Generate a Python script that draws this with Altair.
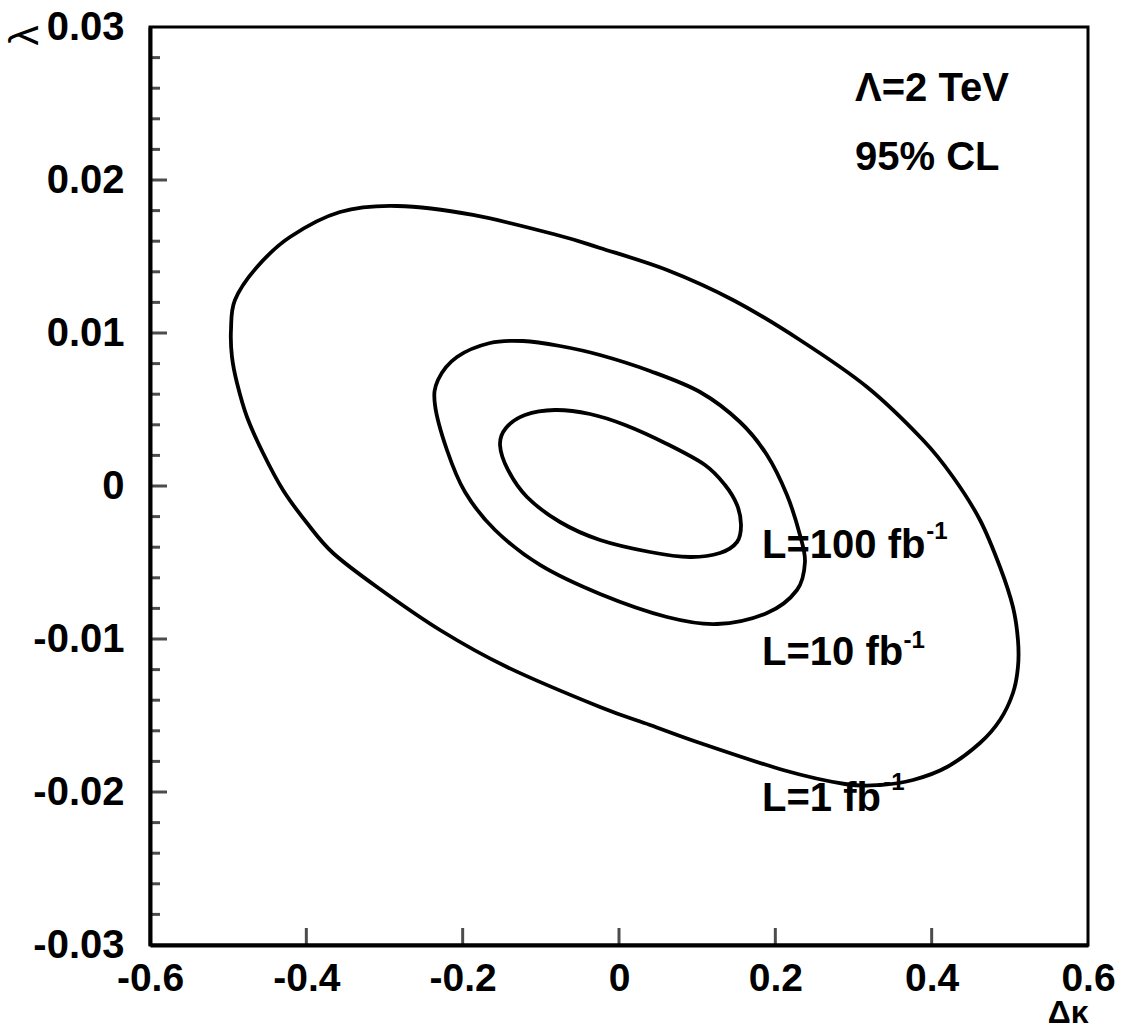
import altair as alt
import pandas as pd

# ---- contour data (Δκ, λ) ----
# L = 1 fb^-1
outer_dk = [-0.4964, -0.4913, -0.4631, -0.4209, -0.3569, -0.2840, -0.1868, -0.0793, -0.0243,
            0.0614, 0.1458, 0.2315, 0.3173, 0.3889, 0.4273, 0.4618, 0.4874, 0.5040, 0.5104,
            0.5104, 0.5040, 0.4874, 0.4618, 0.4196, 0.3761, 0.3339, 0.2891, 0.2098, 0.1036,
            0.0397, -0.0243, -0.1433, -0.2290, -0.3096, -0.3659, -0.3992, -0.4299, -0.4554, -0.4759,
            -0.4887, -0.4951]
outer_lam = [0.010196, 0.012157, 0.014314, 0.016275, 0.017909, 0.018301, 0.017713, 0.016405, 0.015556,
             0.014118, 0.012157, 0.009543, 0.006471, 0.003007, 0.000588, -0.002222, -0.005294, -0.007909, -0.010065,
             -0.011830, -0.013530, -0.015294, -0.016798, -0.018366, -0.019216, -0.019543, -0.019477, -0.018562, -0.016798,
             -0.015621, -0.014445, -0.011830, -0.009412, -0.006601, -0.004379, -0.002418, -0.000261, 0.002157, 0.004510,
             0.006732, 0.008431]
# L = 10 fb^-1
mid_dk = [-0.2354, -0.2316, -0.2073, -0.1650, -0.1228, -0.0755, -0.0243, 0.0397, 0.1036, 0.1548,
          0.1893, 0.2149, 0.2315, 0.2379, 0.2277, 0.1893, 0.1254, 0.0614, -0.0243, -0.1011,
          -0.1586, -0.1970, -0.2201]
mid_lam = [0.005294, 0.006928, 0.008431, 0.009346, 0.009477, 0.009150, 0.008562, 0.007516, 0.006144, 0.004183,
           0.002026, -0.000588, -0.003203, -0.004967, -0.006797, -0.008301, -0.009020, -0.008562, -0.007059, -0.005163,
           -0.002876, -0.000392, 0.002353]
# L = 100 fb^-1
inner_dk = [-0.1522, -0.1446, -0.1203, -0.0819, -0.0371, 0.0077, 0.0614, 0.1100, 0.1356, 0.1510,
            0.1561, 0.1510, 0.1292, 0.0908, 0.0397, -0.0243, -0.0755, -0.1177, -0.1420]
inner_lam = [0.002680, 0.003791, 0.004641, 0.004967, 0.004706, 0.003987, 0.002745, 0.001373, 0.000065, -0.001242,
             -0.002549, -0.003660, -0.004379, -0.004641, -0.004314, -0.003529, -0.002353, -0.000719, 0.001046]

# axis ticks
x_ticks = [-0.6, -0.4, -0.2, 0, 0.2, 0.4, 0.6]
x_inner_ticks = [-0.4, -0.2, 0, 0.2, 0.4]
y_ticks = [-0.03, -0.02, -0.01, 0, 0.01, 0.02, 0.03]
y_major_inner = [-0.02, -0.01, 0, 0.01, 0.02]
y_minor = [-0.028, -0.026, -0.024, -0.022, -0.018, -0.016, -0.014, -0.012,
           -0.008, -0.006, -0.004, -0.002, 0.002, 0.004, 0.006, 0.008,
           0.012, 0.014, 0.016, 0.018, 0.022, 0.024, 0.026, 0.028]

# annotations
label_text = ["Λ=2 TeV", "95% CL", "L=100 fb", "L=10 fb", "L=1 fb"]
label_dk = [0.302, 0.302, 0.183, 0.183, 0.183]
label_lam = [0.02595, 0.02144, -0.00392, -0.01092, -0.02046]
sup_text = ["-1", "-1", "-1"]
sup_dk = [0.393, 0.364, 0.338]
sup_lam = [-0.00301, -0.01013, -0.01941]

rows = []
for name, xs, ys in [("L1", outer_dk, outer_lam), ("L10", mid_dk, mid_lam), ("L100", inner_dk, inner_lam)]:
    for i, (a, b) in enumerate(zip(xs, ys)):
        rows.append({"curve": name, "ord": i, "dk": a, "lam": b})
df = pd.DataFrame(rows)

FONT = "Liberation Sans"
xscale = alt.Scale(domain=[-0.6, 0.6], nice=False, zero=False)
yscale = alt.Scale(domain=[-0.03, 0.03], nice=False, zero=False)

x_axis = alt.Axis(values=x_ticks, labelExpr="'' + datum.value", grid=False,
                  domain=True, domainColor="black", domainWidth=4, ticks=False, tickSize=0,
                  labelFont=FONT, labelFontSize=39, labelFontWeight="bold", labelColor="black",
                  labelPadding=14, labelFlush=False, labelOverlap=False, labelBound=False,
                  title="Δκ", titleFont=FONT, titleFontSize=32, titleFontWeight="bold",
                  titleColor="black", titleAnchor="end", titleAlign="right",
                  titleX=938, titleY=77, titleBaseline="alphabetic")
y_axis = alt.Axis(values=y_ticks, labelExpr="'' + datum.value", grid=False,
                  domain=True, domainColor="black", domainWidth=4, ticks=False, tickSize=0,
                  labelFont=FONT, labelFontSize=40, labelFontWeight="bold", labelColor="black",
                  labelPadding=26, labelFlush=False, labelOverlap=False, labelBound=False,
                  labelAlign="right", labelBaseline="middle",
                  title="λ", titleFont=FONT, titleFontSize=40, titleFontWeight="normal",
                  titleColor="black", titleAngle=270, titleAlign="center", titleBaseline="middle",
                  titleX=-125, titleY=8)

contours = alt.Chart(df).mark_line(interpolate="cardinal-closed", color="black",
                                   strokeWidth=3.8, clip=True).encode(
    x=alt.X("dk:Q", scale=xscale, axis=x_axis),
    y=alt.Y("lam:Q", scale=yscale, axis=y_axis),
    detail="curve:N",
    order="ord:Q",
)

ymaj = alt.Chart(pd.DataFrame({"lam": y_major_inner})).mark_tick(
    orient="horizontal", size=34, thickness=3, color="black", clip=True).encode(
    y=alt.Y("lam:Q", scale=yscale), x=alt.X(datum=-0.6))
ymin = alt.Chart(pd.DataFrame({"lam": y_minor})).mark_tick(
    orient="horizontal", size=20, thickness=3, color="black", clip=True).encode(
    y=alt.Y("lam:Q", scale=yscale), x=alt.X(datum=-0.6))
xmaj = alt.Chart(pd.DataFrame({"dk": x_inner_ticks})).mark_tick(
    orient="vertical", size=34, thickness=3, color="black", clip=True).encode(
    x=alt.X("dk:Q", scale=xscale), y=alt.Y(datum=-0.03))

labels = alt.Chart(pd.DataFrame({"dk": label_dk, "lam": label_lam, "t": label_text})).mark_text(
    align="left", baseline="middle", font=FONT, fontSize=40, fontWeight="bold", color="black").encode(
    x=alt.X("dk:Q", scale=xscale), y=alt.Y("lam:Q", scale=yscale), text="t:N")
sups = alt.Chart(pd.DataFrame({"dk": sup_dk, "lam": sup_lam, "t": sup_text})).mark_text(
    align="left", baseline="middle", font=FONT, fontSize=24, fontWeight="bold", color="black").encode(
    x=alt.X("dk:Q", scale=xscale), y=alt.Y("lam:Q", scale=yscale), text="t:N")

chart = alt.layer(contours, ymaj, ymin, xmaj, labels, sups).properties(
    width=938, height=918,
    autosize=alt.AutoSizeParams(type="none"),
    padding={"left": 150, "top": 27, "right": 35, "bottom": 83},
    background="white",
).configure_view(stroke="black", strokeWidth=3)

chart.save("out.html", embed_options={"renderer": "svg", "actions": False})
